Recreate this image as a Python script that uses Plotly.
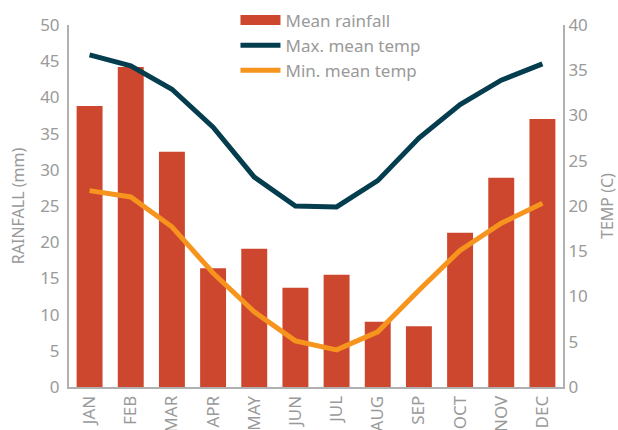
import plotly.graph_objects as go

months = ["JAN", "FEB", "MAR", "APR", "MAY", "JUN", "JUL", "AUG", "SEP", "OCT", "NOV", "DEC"]
rainfall_mm = [38.8, 44.2, 32.5, 16.4, 19.1, 13.7, 15.5, 9.0, 8.4, 21.3, 28.9, 37.0]
max_temp_c = [36.7, 35.5, 32.9, 28.7, 23.2, 20.0, 19.9, 22.8, 27.5, 31.2, 33.9, 35.7]
min_temp_c = [21.7, 21.0, 17.7, 12.6, 8.3, 5.1, 4.1, 6.1, 10.7, 15.1, 18.1, 20.3]

BAR = "#CC472D"
GREY = "#9a9a9a"
AXIS = "#b0b0b0"
FONT = "Noto Sans"

fig = go.Figure()
fig.add_trace(go.Bar(
    x=months, y=rainfall_mm, name="Mean rainfall", showlegend=False,
    marker=dict(color=BAR, line=dict(width=0)), width=0.63,
))
# wide block swatch for the rainfall legend entry
fig.add_trace(go.Scatter(
    x=[None], y=[None], name="Mean rainfall", mode="lines",
    line=dict(color=BAR, width=16),
))
fig.add_trace(go.Scatter(
    x=months, y=max_temp_c, name="Max. mean temp", yaxis="y2",
    mode="lines", line=dict(color="#033D4E", width=5),
))
fig.add_trace(go.Scatter(
    x=months, y=min_temp_c, name="Min. mean temp", yaxis="y2",
    mode="lines", line=dict(color="#F7941D", width=5),
))

fig.update_layout(
    width=618, height=430,
    margin=dict(l=69, r=55, t=25, b=43, autoexpand=False),
    paper_bgcolor="white", plot_bgcolor="white",
    font=dict(family=FONT, color=GREY, size=16),
    showlegend=True,
    legend=dict(
        x=0.337, y=1.062, xanchor="left", yanchor="top",
        bgcolor="rgba(0,0,0,0)", font=dict(size=17, color=GREY),
        tracegroupgap=0, itemwidth=40,
    ),
    bargap=0.37,
    xaxis=dict(
        type="category", tickangle=-90, showgrid=False, automargin=False,
        showline=True, linecolor=AXIS, linewidth=2, ticks="",
        tickfont=dict(size=17, color=GREY),
    ),
    yaxis=dict(
        range=[0, 50], dtick=5, showgrid=False, zeroline=False, automargin=False,
        showline=True, linecolor=AXIS, linewidth=2, ticks="",
        ticklabelstandoff=4,
        tickfont=dict(size=17, color=GREY),
        title=dict(text="RAINFALL (mm)", font=dict(size=16, color=GREY), standoff=12),
    ),
    yaxis2=dict(
        range=[0, 40], dtick=5, overlaying="y", side="right", automargin=False,
        showgrid=False, zeroline=False,
        showline=True, linecolor=AXIS, linewidth=2, ticks="",
        tickfont=dict(size=17, color=GREY),
        title=dict(text="TEMP (C)", font=dict(size=16, color=GREY), standoff=18),
    ),
)

fig.write_html("out.html")
